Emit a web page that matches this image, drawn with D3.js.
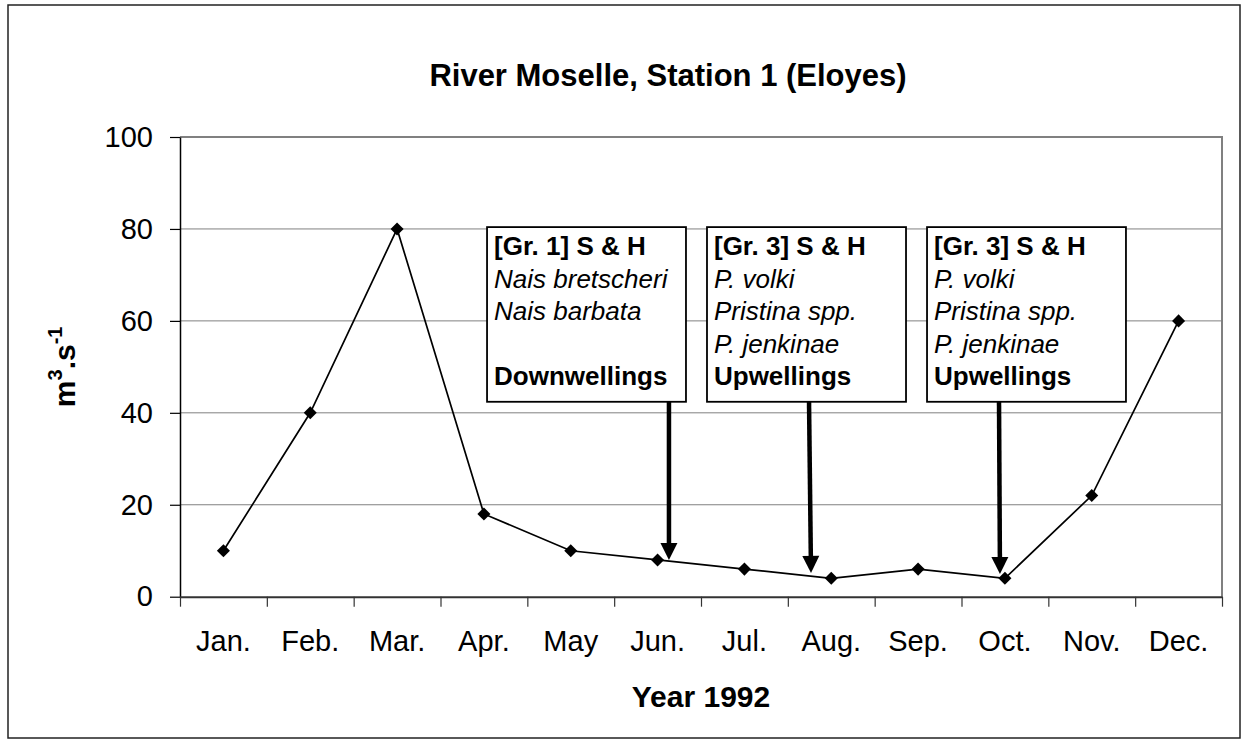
<!DOCTYPE html>
<html>
<head>
<meta charset="utf-8">
<script src="https://cdn.jsdelivr.net/npm/d3@7"></script>
<style>
  body { margin: 0; background: #fff; }
  svg { display: block; font-family: "Liberation Sans", Arial, sans-serif; }
</style>
</head>
<body>
<div id="chart"></div>
<script>
// Moselle discharge at Eloyes, monthly, 1992

const months = ["Jan.", "Feb.", "Mar.", "Apr.", "May", "Jun.", "Jul.", "Aug.", "Sep.", "Oct.", "Nov.", "Dec."];
const discharge = [10, 40, 80, 18, 10, 8, 6, 4, 6, 4, 22, 60];
const yTicks = [0, 20, 40, 60, 80, 100];

// annotation texts (style: b = bold, i = italic)
const note1 = [["[Gr. 1] S & H", "b"], ["Nais bretscheri", "i"], ["Nais barbata", "i"], ["", "i"], ["Downwellings", "b"]];
const note2 = [["[Gr. 3] S & H", "b"], ["P. volki", "i"], ["Pristina spp.", "i"], ["P. jenkinae", "i"], ["Upwellings", "b"]];
const note3 = [["[Gr. 3] S & H", "b"], ["P. volki", "i"], ["Pristina spp.", "i"], ["P. jenkinae", "i"], ["Upwellings", "b"]];

// where the notes sit, in chart units (month position 0..12, discharge)
const notePlaces = [
  {lines: note1, x0: 3.536, x1: 5.827, top: 80.4, bottom: 42.4, ax0: 5.631, ax1: 5.631, tip: 8.0},
  {lines: note2, x0: 6.069, x1: 8.361, top: 80.4, bottom: 42.4, ax0: 7.244, ax1: 7.267, tip: 5.17},
  {lines: note3, x0: 8.603, x1: 10.894, top: 80.4, bottom: 42.4, ax0: 9.432, ax1: 9.443, tip: 4.95}
];

const WIDTH = 1242, HEIGHT = 744;
const plot = {left: 180, right: 1222, top: 137, bottom: 596.7};

const svg = d3.select("#chart").append("svg")
  .attr("width", WIDTH)
  .attr("height", HEIGHT);

// outer frame
svg.append("rect")
  .attr("x", 8).attr("y", 5)
  .attr("width", 1232).attr("height", 733)
  .attr("fill", "#fff")
  .attr("stroke", "#222")
  .attr("stroke-width", 1.5);

// scales
const x = d3.scaleBand().domain(months).range([plot.left, plot.right]).padding(0);
const xPos = d3.scaleLinear().domain([0, 12]).range([plot.left, plot.right]);
const y = d3.scaleLinear().domain([0, 100]).range([plot.bottom, plot.top]);

// grid lines
svg.append("g")
  .selectAll("line")
  .data(yTicks.filter(v => v > 0 && v < 100))
  .enter().append("line")
    .attr("x1", plot.left).attr("x2", plot.right)
    .attr("y1", d => y(d)).attr("y2", d => y(d))
    .attr("stroke", "#808080")
    .attr("stroke-width", 1);

// plot border top + right (grey)
svg.append("path")
  .attr("d", `M${plot.left},${y(100)}H${plot.right}V${plot.bottom}`)
  .attr("fill", "none")
  .attr("stroke", "#808080")
  .attr("stroke-width", 2);

// y axis
const gy = svg.append("g")
  .attr("transform", `translate(${plot.left},0)`)
  .call(d3.axisLeft(y).tickValues(yTicks).tickSize(10).tickPadding(17).tickSizeOuter(0));
gy.select(".domain").attr("stroke", "#000").attr("stroke-width", 1.5);
gy.selectAll(".tick line").attr("stroke", "#000").attr("stroke-width", 1.2);
gy.selectAll("text").attr("font-size", 29).attr("fill", "#000")
  .attr("font-family", "Liberation Sans, Arial, sans-serif");

// x axis: tick marks at month boundaries
const gxTicks = svg.append("g")
  .attr("transform", `translate(0,${plot.bottom})`)
  .call(d3.axisBottom(xPos).tickValues(d3.range(13)).tickFormat("").tickSize(10).tickSizeOuter(0));
gxTicks.select(".domain").attr("stroke", "#333").attr("stroke-width", 2);
gxTicks.selectAll(".tick line").attr("stroke", "#333").attr("stroke-width", 1.2);

// x axis labels centered in each month
const gx = svg.append("g")
  .attr("transform", `translate(0,${plot.bottom})`)
  .call(d3.axisBottom(x).tickSize(0).tickPadding(34));
gx.select(".domain").remove();
gx.selectAll("text").attr("font-size", 29).attr("fill", "#000")
  .attr("font-family", "Liberation Sans, Arial, sans-serif");

// title
svg.append("text")
  .attr("x", 668).attr("y", 86)
  .attr("text-anchor", "middle")
  .attr("font-size", 31)
  .attr("font-weight", "bold")
  .text("River Moselle, Station 1 (Eloyes)");

// x title
svg.append("text")
  .attr("x", (plot.left + plot.right) / 2).attr("y", 707)
  .attr("text-anchor", "middle")
  .attr("font-size", 30)
  .attr("font-weight", "bold")
  .text("Year 1992");

// y title  m³.s⁻¹
const yl = svg.append("text")
  .attr("transform", `translate(75,${(plot.top + plot.bottom) / 2}) rotate(-90)`)
  .attr("text-anchor", "middle")
  .attr("font-size", 30)
  .attr("font-weight", "bold");
yl.append("tspan").text("m");
yl.append("tspan").attr("font-size", 20).attr("dy", -13).text("3");
yl.append("tspan").attr("dy", 13).text(".s");
yl.append("tspan").attr("font-size", 20).attr("dy", -13).text("-1");

// series line
const line = d3.line()
  .x((d, i) => x(months[i]) + x.bandwidth() / 2)
  .y(d => y(d));

svg.append("path")
  .datum(discharge)
  .attr("d", line)
  .attr("fill", "none")
  .attr("stroke", "#000")
  .attr("stroke-width", 1.7);

// diamond markers
svg.append("g")
  .selectAll("path")
  .data(discharge)
  .enter().append("path")
    .attr("d", d3.symbol().type(d3.symbolSquare).size(85))
    .attr("transform", (d, i) => `translate(${x(months[i]) + x.bandwidth() / 2},${y(d)}) rotate(45)`)
    .attr("fill", "#000");

// annotation boxes + arrows
const notes = svg.append("g").selectAll("g").data(notePlaces).enter().append("g");

notes.append("rect")
  .attr("x", d => xPos(d.x0))
  .attr("y", d => y(d.top))
  .attr("width", d => xPos(d.x1) - xPos(d.x0))
  .attr("height", d => y(d.bottom) - y(d.top))
  .attr("fill", "#fff")
  .attr("stroke", "#000")
  .attr("stroke-width", 1.8);

notes.each(function(d) {
  const g = d3.select(this);
  d.lines.forEach((ln, i) => {
    g.append("text")
      .attr("x", xPos(d.x0) + 7)
      .attr("y", y(d.top) + 28 + i * 32.5)
      .attr("font-size", 26)
      .attr("font-weight", ln[1] === "b" ? "bold" : "normal")
      .attr("font-style", ln[1] === "i" ? "italic" : "normal")
      .text(ln[0]);
  });

  // arrow shaft + head
  const sx = xPos(d.ax0), sy = y(d.bottom);
  const ex = xPos(d.ax1), ey = y(d.tip);
  const head = 17, half = 8.5;
  const ang = Math.atan2(ey - sy, ex - sx);
  const bx = ex - head * Math.cos(ang), by = ey - head * Math.sin(ang);
  g.append("line")
    .attr("x1", sx).attr("y1", sy)
    .attr("x2", bx).attr("y2", by)
    .attr("stroke", "#000")
    .attr("stroke-width", 4.5);
  const px = -Math.sin(ang) * half, py = Math.cos(ang) * half;
  g.append("path")
    .attr("d", `M${ex},${ey}L${bx + px},${by + py}L${bx - px},${by - py}Z`)
    .attr("fill", "#000");
});
</script>
</body>
</html>
